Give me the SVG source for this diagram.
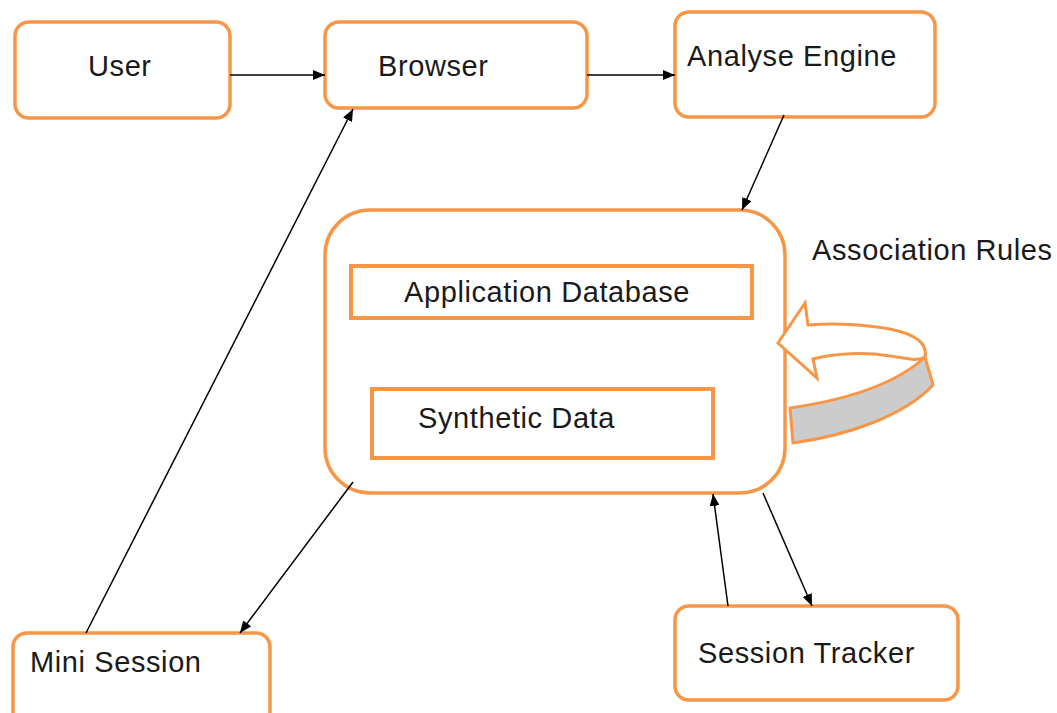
<svg xmlns="http://www.w3.org/2000/svg" width="1057" height="713" viewBox="0 0 1057 713">
<style>
.box{fill:#fff;stroke:#F79646;stroke-width:3.5}
.inner{fill:#fff;stroke:#F79646;stroke-width:4}
.t{font-family:"Liberation Sans",Arial,sans-serif;font-size:29px;letter-spacing:0.6px;fill:#1a1a1a}
.c{stroke:#000;stroke-width:1.5;fill:none;marker-end:url(#ah)}
</style>
<defs>
<marker id="ah" viewBox="0 0 12 10" refX="12" refY="5" markerWidth="12" markerHeight="10" markerUnits="userSpaceOnUse" orient="auto">
<path d="M0,0 L12,5 L0,10 z" fill="#000"/>
</marker>
</defs>
<rect width="1057" height="713" fill="#fff"/>
<g id="user"><rect class="box" x="15" y="22" width="215" height="96" rx="14"/><text class="t" x="88" y="76">User</text></g>
<g id="browser"><rect class="box" x="325" y="22" width="262" height="86" rx="14"/><text class="t" x="378" y="76">Browser</text></g>
<g id="analyse"><rect class="box" x="675" y="12" width="260" height="105" rx="14"/><text class="t" x="687" y="66">Analyse Engine</text></g>
<g id="core">
<rect class="box" x="325" y="210" width="460" height="283" rx="45"/>
<rect class="inner" x="351" y="266" width="401" height="52"/>
<text class="t" x="404" y="302">Application Database</text>
<rect class="inner" x="372" y="389" width="341" height="69"/>
<text class="t" x="418" y="428">Synthetic Data</text>
</g>
<g id="assoc">
<path d="M925,357 L933,385 C905,415 850,435 793,443 L790,408 C845,400 895,385 925,357 z" fill="#CCCCCC" stroke="#F79646" stroke-width="3" stroke-linejoin="round"/>
<path d="M925,357 C928,343 915,332 877,327 C855,324 830,323 808,325 L805,303 L778,343 L817,378 L813,359 C835,353 865,352 890,356 C905,358 917,362 925,357" fill="#fff" stroke="#F79646" stroke-width="3" stroke-linejoin="miter"/>
<text class="t" x="812" y="260">Association Rules</text>
</g>
<g id="mini"><rect class="box" x="13" y="633" width="257" height="100" rx="14"/><text class="t" x="30" y="672">Mini Session</text></g>
<g id="tracker"><rect class="box" x="675" y="606" width="283" height="94" rx="14"/><text class="t" x="698" y="663">Session Tracker</text></g>
<g id="connectors">
<line class="c" x1="230" y1="75" x2="325" y2="75"/>
<line class="c" x1="587" y1="75" x2="675" y2="75"/>
<line class="c" x1="784" y1="115" x2="742" y2="210"/>
<line class="c" x1="86" y1="633" x2="353" y2="109"/>
<line class="c" x1="353" y1="482" x2="240" y2="633"/>
<line class="c" x1="728" y1="606" x2="713" y2="494"/>
<line class="c" x1="763" y1="493" x2="812" y2="606"/>
</g>
</svg>
